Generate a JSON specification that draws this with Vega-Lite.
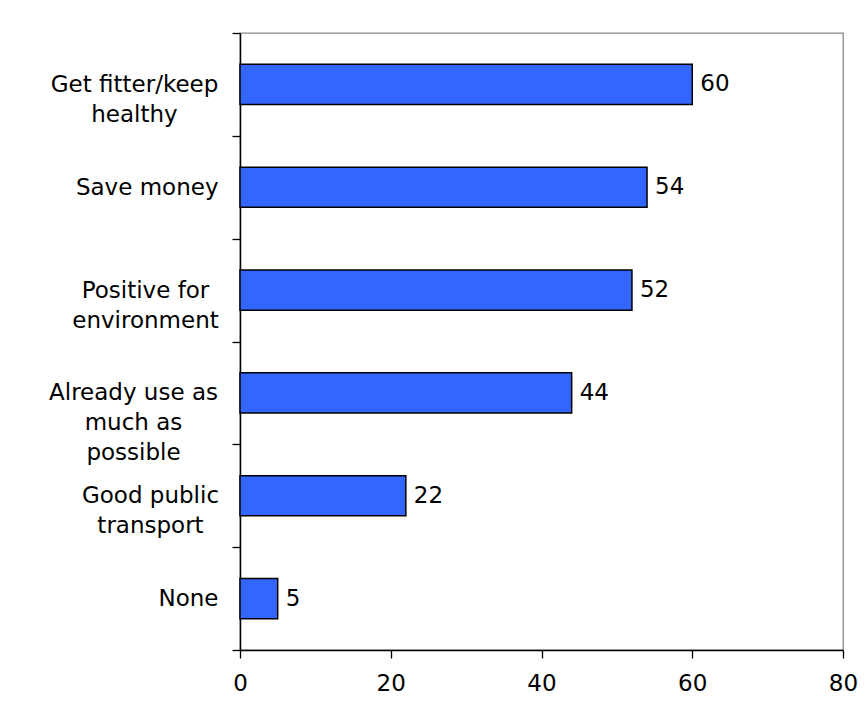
{
  "$schema": "https://vega.github.io/schema/vega-lite/v6.json",
  "width": 603,
  "height": 617,
  "autosize": {"type": "none"},
  "padding": {"left": 240, "top": 33, "right": 25, "bottom": 65},
  "background": "white",
  "config": {
    "view": {"stroke": "#888888", "strokeWidth": 1.3},
    "font": "DejaVu Sans"
  },
  "data": {
    "values": [
      {"reason": "Get fitter/keep healthy", "pct": 60},
      {"reason": "Save money", "pct": 54},
      {"reason": "Positive for environment", "pct": 52},
      {"reason": "Already use as much as possible", "pct": 44},
      {"reason": "Good public transport", "pct": 22},
      {"reason": "None", "pct": 5}
    ]
  },
  "encoding": {
    "y": {
      "field": "reason",
      "type": "nominal",
      "sort": null,
      "scale": {"paddingInner": 0, "paddingOuter": 0},
      "axis": {
        "title": null,
        "tickBand": "extent",
        "tickSize": 8,
        "tickColor": "black",
        "tickWidth": 1.3,
        "domainColor": "black",
        "domainWidth": 1.5,
        "labelFont": "DejaVu Sans",
        "labelFontSize": 23,
        "labelColor": "black",
        "labelLineHeight": 30,
        "labelBaseline": "middle",
        "labelLimit": 300,
        "labelExpr": "datum.value == 'Get fitter/keep healthy' ? ['Get fitter/keep', 'healthy'] : datum.value == 'Positive for environment' ? ['Positive for', 'environment'] : datum.value == 'Already use as much as possible' ? ['Already use as', 'much as', 'possible'] : datum.value == 'Good public transport' ? ['Good public', 'transport'] : datum.value",
        "labelAlign": {
          "condition": {"test": "datum.value == 'Save money' || datum.value == 'None'", "value": "right"},
          "value": "center"
        },
        "labelPadding": {
          "condition": [
            {"test": "datum.value == 'Save money' || datum.value == 'None'", "value": 14},
            {"test": "datum.value == 'Get fitter/keep healthy'", "value": 98},
            {"test": "datum.value == 'Positive for environment'", "value": 87},
            {"test": "datum.value == 'Already use as much as possible'", "value": 99}
          ],
          "value": 82
        }
      }
    },
    "x": {
      "field": "pct",
      "type": "quantitative",
      "scale": {"domain": [0, 80], "nice": false},
      "axis": {
        "title": null,
        "values": [0, 20, 40, 60, 80],
        "grid": false,
        "tickSize": 8,
        "tickColor": "black",
        "tickWidth": 1.3,
        "domainColor": "black",
        "domainWidth": 1.5,
        "labelFont": "DejaVu Sans",
        "labelFontSize": 23,
        "labelColor": "black",
        "labelPadding": 14,
        "labelFlush": false
      }
    }
  },
  "layer": [
    {
      "mark": {"type": "bar", "color": "#3366FF", "stroke": "black", "strokeWidth": 1.5, "height": {"band": 0.39}}
    },
    {
      "mark": {"type": "text", "align": "left", "baseline": "middle", "dx": 8, "fontSize": 23, "font": "DejaVu Sans", "color": "black"},
      "encoding": {"text": {"field": "pct", "type": "quantitative"}}
    }
  ]
}
